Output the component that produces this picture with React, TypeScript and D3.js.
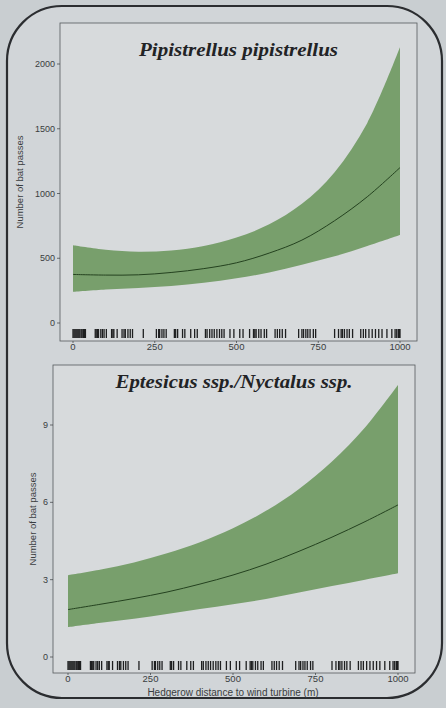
import React from "react";
import * as d3 from "d3";

// distances (m) at which the fitted curves are read
const distance = [0, 100, 200, 300, 400, 500, 600, 700, 800, 900, 1000];

// Pipistrellus pipistrellus
const pipFit = [375, 370, 372, 390, 420, 465, 540, 640, 790, 975, 1200];
const pipUpper = [600, 565, 550, 560, 595, 660, 762, 920, 1165, 1545, 2130];
const pipLower = [240, 258, 270, 285, 310, 345, 390, 450, 515, 595, 680];

// Eptesicus / Nyctalus
const eptFit = [1.84, 2.05, 2.27, 2.52, 2.83, 3.18, 3.6, 4.1, 4.65, 5.25, 5.9];
const eptUpper = [3.17, 3.39, 3.67, 4.02, 4.45, 4.99, 5.67, 6.52, 7.58, 8.9, 10.55];
const eptLower = [1.16, 1.33, 1.48, 1.67, 1.86, 2.05, 2.25, 2.5, 2.75, 3.0, 3.25];

// hedgerow distances of the sampled sites (rug)
const rugDistances = [
  0, 3, 6, 9, 12, 15, 18, 21, 25, 28, 32, 35, 38, 68, 71, 75, 78, 85, 90, 95,
  102, 118, 122, 125, 135, 150, 156, 160, 168, 175, 182, 215, 255, 262, 265,
  272, 278, 285, 310, 314, 320, 335, 342, 360, 372, 380, 405, 410, 418, 425,
  432, 440, 448, 455, 462, 480, 492, 510, 520, 540, 552, 556, 560, 568, 575,
  585, 592, 618, 625, 632, 640, 650, 690, 700, 705, 712, 718, 725, 735, 742,
  800, 812, 820, 824, 830, 838, 845, 855, 880, 888, 895, 905, 915, 925, 935,
  945, 960, 975, 985, 990, 995, 998, 1000,
];

const xTicks = [0, 250, 500, 750, 1000];
const pipYTicks = [0, 500, 1000, 1500, 2000];
const eptYTicks = [0, 3, 6, 9];

const SANS = "'Liberation Sans', Arial, sans-serif";
const SERIF = "'Liberation Serif', 'DejaVu Serif', serif";
const BAND = "#789f6c";
const LINE = "#24421f";
const INK = "#3a3d40";

type PanelProps = {
  title: string;
  titleWidth: number;
  fit: number[];
  upper: number[];
  lower: number[];
  yMax: number;
  yTicks: number[];
  box: { x0: number; x1: number; y0: number; y1: number };
  xRange: [number, number];
  yRange: [number, number];
  titleY: number;
  yLabelX: number;
};

function Panel({
  title,
  titleWidth,
  fit,
  upper,
  lower,
  yMax,
  yTicks,
  box,
  xRange,
  yRange,
  titleY,
  yLabelX,
}: PanelProps) {
  const x = d3.scaleLinear().domain([0, 1000]).range(xRange);
  const y = d3.scaleLinear().domain([0, yMax]).range(yRange);

  const rows = distance.map((d, i) => ({
    d,
    fit: fit[i],
    hi: upper[i],
    lo: lower[i],
  }));

  const area = d3
    .area<(typeof rows)[number]>()
    .x((r) => x(r.d))
    .y0((r) => y(r.lo))
    .y1((r) => y(r.hi))
    .curve(d3.curveCatmullRom.alpha(0.5));

  const line = d3
    .line<(typeof rows)[number]>()
    .x((r) => x(r.d))
    .y((r) => y(r.fit))
    .curve(d3.curveCatmullRom.alpha(0.5));

  return (
    <g>
      <rect
        x={box.x0}
        y={box.y0}
        width={box.x1 - box.x0}
        height={box.y1 - box.y0}
        fill="#d7dadc"
        stroke="#55595c"
        strokeWidth={0.8}
      />
      <path d={area(rows) || ""} fill={BAND} />
      <path d={line(rows) || ""} fill="none" stroke={LINE} strokeWidth={1} />

      {/* rug */}
      {rugDistances.map((d, i) => (
        <line
          key={i}
          x1={x(d)}
          x2={x(d)}
          y1={box.y1 - 12}
          y2={box.y1 - 3}
          stroke="#1e1f20"
          strokeWidth={1.3}
        />
      ))}

      {/* y axis */}
      {yTicks.map((t) => (
        <g key={t}>
          <line
            x1={box.x0 - 3}
            x2={box.x0}
            y1={y(t)}
            y2={y(t)}
            stroke={INK}
            strokeWidth={0.7}
          />
          <text
            x={box.x0 - 5}
            y={y(t)}
            dy="0.35em"
            textAnchor="end"
            fontFamily={SANS}
            fontSize={9}
            fill={INK}
          >
            {t}
          </text>
        </g>
      ))}

      {/* x axis */}
      {xTicks.map((t) => (
        <g key={t}>
          <line
            x1={x(t)}
            x2={x(t)}
            y1={box.y1}
            y2={box.y1 + 2}
            stroke={INK}
            strokeWidth={0.7}
          />
          <text
            x={x(t)}
            y={box.y1 + 9}
            textAnchor="middle"
            fontFamily={SANS}
            fontSize={9.5}
            fill={INK}
          >
            {t}
          </text>
        </g>
      ))}

      <text
        x={(box.x0 + box.x1) / 2}
        y={titleY}
        textAnchor="middle"
        fontFamily={SERIF}
        fontStyle="italic"
        fontWeight="bold"
        fontSize={19}
        textLength={titleWidth}
        lengthAdjust="spacingAndGlyphs"
        fill="#222325"
      >
        {title}
      </text>

      <text
        transform={`translate(${yLabelX},${(box.y0 + box.y1) / 2}) rotate(-90)`}
        textAnchor="middle"
        fontFamily={SANS}
        fontSize={9.5}
        fill={INK}
      >
        Number of bat passes
      </text>
    </g>
  );
}

export default function App() {
  const width = 446;
  const height = 708;
  return (
    <svg
      width={width}
      height={height}
      style={{ position: "absolute", left: 0, top: 0, background: "#c9ced1" }}
    >
      <rect x={0} y={0} width={width} height={height} fill="#c9ced1" />
      <rect
        x={7}
        y={6}
        width={435}
        height={692}
        rx={55}
        ry={55}
        fill="#d1d5d8"
        stroke="#2b2d30"
        strokeWidth={2.2}
      />
      <Panel
        title="Pipistrellus pipistrellus"
        titleWidth={199}
        fit={pipFit}
        upper={pipUpper}
        lower={pipLower}
        yMax={2000}
        yTicks={pipYTicks}
        box={{ x0: 60, x1: 417, y0: 23, y1: 341 }}
        xRange={[73, 400]}
        yRange={[323, 64]}
        titleY={56}
        yLabelX={23}
      />
      <Panel
        title="Eptesicus ssp./Nyctalus ssp."
        titleWidth={237}
        fit={eptFit}
        upper={eptUpper}
        lower={eptLower}
        yMax={9}
        yTicks={eptYTicks}
        box={{ x0: 53, x1: 415, y0: 365, y1: 673 }}
        xRange={[68, 398]}
        yRange={[657, 425]}
        titleY={388}
        yLabelX={36}
      />
      <text
        x={233}
        y={696}
        textAnchor="middle"
        fontFamily={SANS}
        fontSize={10}
        fill={INK}
      >
        Hedgerow distance to wind turbine (m)
      </text>
    </svg>
  );
}
